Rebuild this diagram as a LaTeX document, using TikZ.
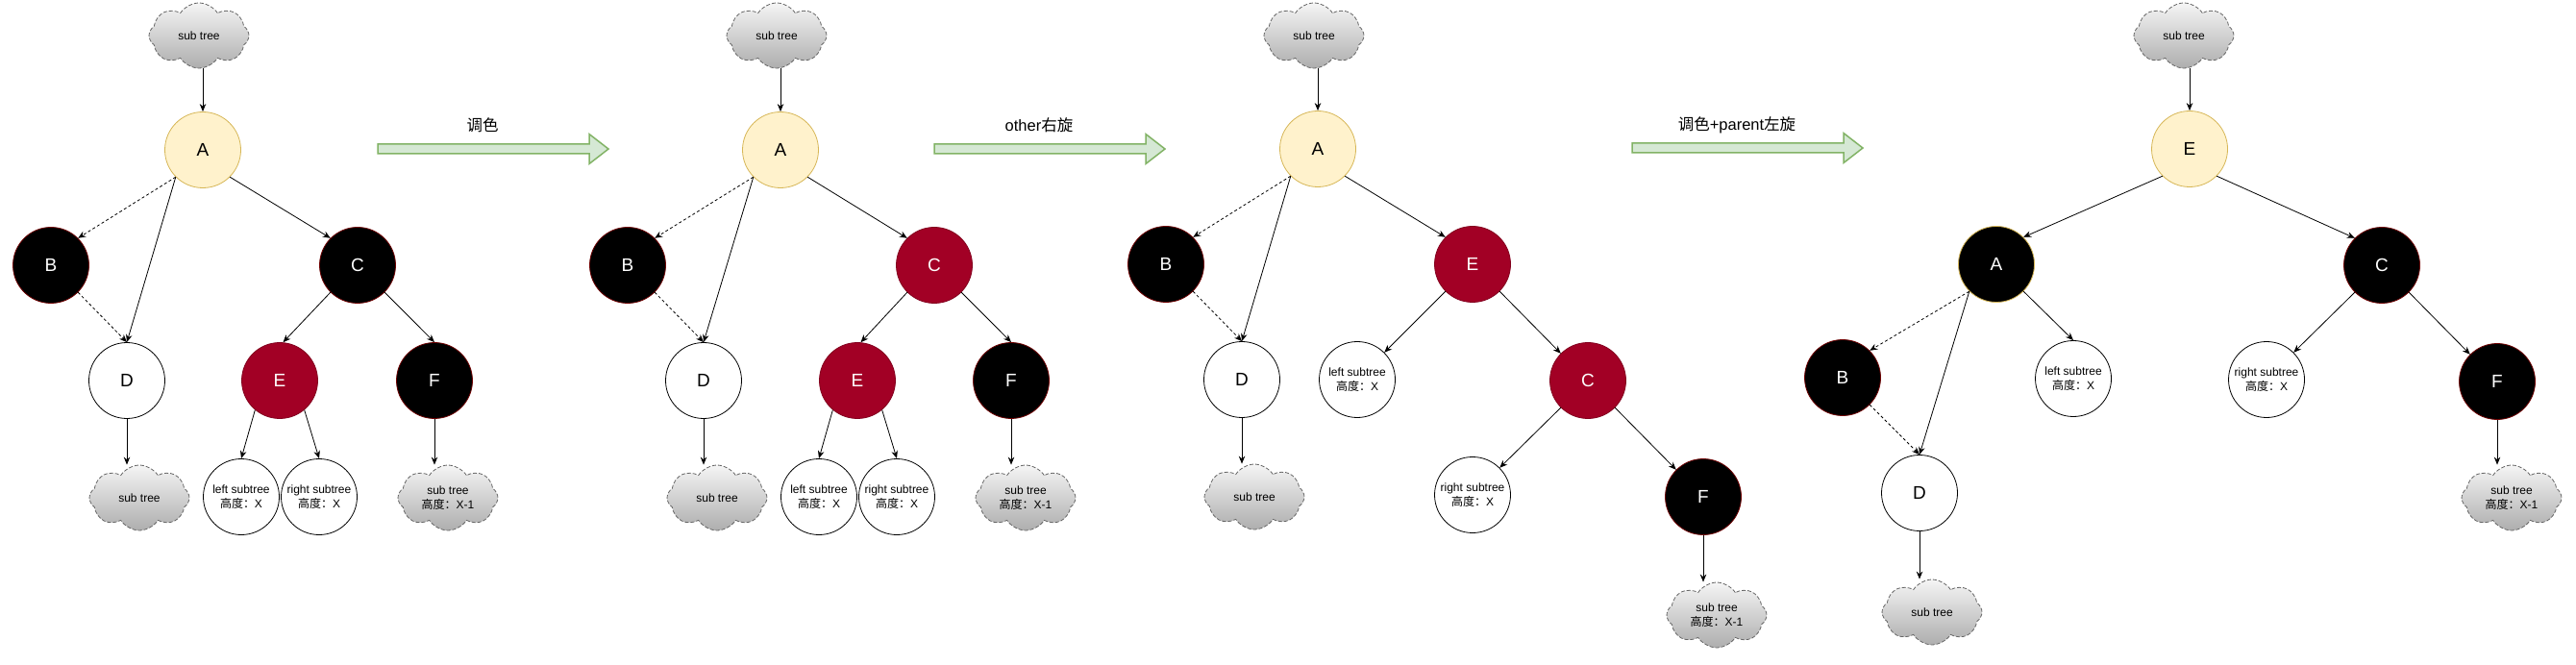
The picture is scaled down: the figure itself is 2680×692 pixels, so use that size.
\documentclass[tikz,border=0pt]{standalone}
\usepackage{fontspec}
\setmainfont{Liberation Sans}
\newfontfamily\cjk{Noto Sans CJK SC}
\usepackage{tikz}
\usetikzlibrary{arrows.meta, shapes.symbols, shapes.geometric, calc, positioning}
\definecolor{yelfill}{HTML}{FFF2CC}
\definecolor{yelline}{HTML}{D6B656}
\definecolor{redfill}{HTML}{A20025}
\definecolor{redline}{HTML}{6F0000}
\definecolor{flowfill}{HTML}{D5E8D4}
\definecolor{flowline}{HTML}{82B366}
\definecolor{cloudline}{HTML}{666666}

\begin{document}
\begin{tikzpicture}[x=1pt,y=-1pt,
        rbnode/.style={circle, minimum size=79pt, inner sep=0pt, line width=0.8pt, font=\fontsize{19}{22}\selectfont},
        blknode/.style={rbnode, fill=black, draw=redline, text=white},
        rednode/.style={rbnode, fill=redfill, draw=redfill!80!black, text=white},
        yelnode/.style={rbnode, fill=yelfill, draw=yelline},
        whtnode/.style={rbnode, fill=white, draw=black},
        subnode/.style={circle, minimum size=79pt, inner sep=0pt, draw, line width=0.8pt, align=center, font=\fontsize{12}{14.5}\selectfont},
        cld/.style={cloud, cloud puffs=8, cloud puff arc=115, aspect=1.5, draw=cloudline, dash pattern=on 4pt off 2pt, line width=0.8pt,
                top color=black!4, bottom color=black!32, minimum width=104pt, minimum height=68pt, inner sep=0pt,
                align=center, font=\fontsize{12}{14.5}\selectfont},
        edge/.style={-{Stealth[length=8pt,width=6.5pt]}, line width=0.8pt},
        dedge/.style={edge, dash pattern=on 3pt off 2.5pt},
        flow/.style={fill=flowfill, draw=flowline, line width=1.5pt},
        lbl/.style={font=\fontsize{16.5}{19}\selectfont}]

        \useasboundingbox (0,0) rectangle (2680,692); % Khung hình

        % Cây 1
        \node[cld] (cT1) at (207,37) {sub tree};
        \node[yelnode] (A1) at (211,156) {A};
        \node[blknode] (B1) at (53,276) {B};
        \node[blknode] (C1) at (372,276) {C};
        \node[whtnode] (D1) at (132,396) {D};
        \node[rednode] (E1) at (291,396) {E};
        \node[blknode] (F1) at (452,396) {F};
        \node[subnode] (L1) at (251,517) {left subtree\\{\cjk 高度：}X};
        \node[subnode] (R1) at (332,517) {right subtree\\{\cjk 高度：}X};
        \node[cld] (cD1) at (145,518) {sub tree};
        \node[cld] (cF1) at (466,518) {sub tree\\{\cjk 高度：}X-1};

        \draw[edge] (A1.north |- cT1.south) -- (A1.north);
        \draw[dedge] (A1.225) -- (B1.45);
        \draw[edge] (A1.225) -- (D1.north);
        \draw[dedge] (B1.-45) -- (D1.north);
        \draw[edge] (A1.-45) -- (C1.135);
        \draw[edge] (C1.-135) -- (E1.85);
        \draw[edge] (C1.-45) -- (F1.north);
        \draw[edge] (E1.-130) -- (L1.north);
        \draw[edge] (E1.-50) -- (R1.north);
        \draw[edge] (D1.south) -- (D1.south |- cD1.north);
        \draw[edge] (F1.south) -- (F1.south |- cF1.north);

        % Mũi tên 1
        \coordinate (s1) at (393,155);
        \draw[flow] (s1) ++(0,-5) -- ++(220,0) -- ++(0,-10.5) -- ++(20,15.5) -- ++(-20,15.5) -- ++(0,-10.5) -- ++(-220,0) -- cycle;
        \node[lbl] (t1) at (502,130) {\cjk 调色};

        % Cây 2
        \node[cld] (cT2) at (808,37) {sub tree};
        \node[yelnode] (A2) at (812,156) {A};
        \node[blknode] (B2) at (653,276) {B};
        \node[rednode] (C2) at (972,276) {C};
        \node[whtnode] (D2) at (732,396) {D};
        \node[rednode] (E2) at (892,396) {E};
        \node[blknode] (F2) at (1052,396) {F};
        \node[subnode] (L2) at (852,517) {left subtree\\{\cjk 高度：}X};
        \node[subnode] (R2) at (933,517) {right subtree\\{\cjk 高度：}X};
        \node[cld] (cD2) at (746,518) {sub tree};
        \node[cld] (cF2) at (1067,518) {sub tree\\{\cjk 高度：}X-1};

        \draw[edge] (A2.north |- cT2.south) -- (A2.north);
        \draw[dedge] (A2.225) -- (B2.45);
        \draw[edge] (A2.225) -- (D2.north);
        \draw[dedge] (B2.-45) -- (D2.north);
        \draw[edge] (A2.-45) -- (C2.135);
        \draw[edge] (C2.-135) -- (E2.85);
        \draw[edge] (C2.-45) -- (F2.north);
        \draw[edge] (E2.-130) -- (L2.north);
        \draw[edge] (E2.-50) -- (R2.north);
        \draw[edge] (D2.south) -- (D2.south |- cD2.north);
        \draw[edge] (F2.south) -- (F2.south |- cF2.north);

        % Mũi tên 2
        \coordinate (s2) at (972,155);
        \draw[flow] (s2) ++(0,-5) -- ++(220,0) -- ++(0,-10.5) -- ++(20,15.5) -- ++(-20,15.5) -- ++(0,-10.5) -- ++(-220,0) -- cycle;
        \node[lbl] (t2) at (1081,130) {other{\cjk 右旋}};

        % Cây 3
        \node[cld] (cT3) at (1367,37) {sub tree};
        \node[yelnode] (A3) at (1371,155) {A};
        \node[blknode] (B3) at (1213,275) {B};
        \node[rednode] (E3) at (1532,275) {E};
        \node[whtnode] (D3) at (1292,395) {D};
        \node[subnode] (L3) at (1412,395) {left subtree\\{\cjk 高度：}X};
        \node[rednode] (C3) at (1652,396) {C};
        \node[subnode] (R3) at (1532,515) {right subtree\\{\cjk 高度：}X};
        \node[blknode] (F3) at (1772,517) {F};
        \node[cld] (cD3) at (1305,517) {sub tree};
        \node[cld] (cF3) at (1786,640) {sub tree\\{\cjk 高度：}X-1};

        \draw[edge] (A3.north |- cT3.south) -- (A3.north);
        \draw[dedge] (A3.225) -- (B3.45);
        \draw[edge] (A3.225) -- (D3.north);
        \draw[dedge] (B3.-45) -- (D3.north);
        \draw[edge] (A3.-45) -- (E3.135);
        \draw[edge] (E3.-135) -- (L3.45);
        \draw[edge] (E3.-45) -- (C3.135);
        \draw[edge] (C3.-135) -- (R3.45);
        \draw[edge] (C3.-45) -- (F3.135);
        \draw[edge] (D3.south) -- (D3.south |- cD3.north);
        \draw[edge] (F3.south) -- (F3.south |- cF3.north);

        % Mũi tên 3
        \coordinate (s3) at (1698,154);
        \draw[flow] (s3) ++(0,-5) -- ++(220,0) -- ++(0,-10.5) -- ++(20,15.5) -- ++(-20,15.5) -- ++(0,-10.5) -- ++(-220,0) -- cycle;
        \node[lbl] (t3) at (1807,130) {{\cjk 调色}+parent{\cjk 左旋}};

        % Cây 4
        \node[cld] (cT4) at (2272,37) {sub tree};
        \node[yelnode] (E4) at (2278,155) {E};
        \node[blknode, draw=yelline] (A4) at (2077,275) {A};
        \node[blknode] (C4) at (2478,276) {C};
        \node[blknode] (B4) at (1917,393) {B};
        \node[subnode] (L4) at (2157,394) {left subtree\\{\cjk 高度：}X};
        \node[subnode] (R4) at (2358,395) {right subtree\\{\cjk 高度：}X};
        \node[blknode] (F4) at (2598,397) {F};
        \node[whtnode] (D4) at (1997,513) {D};
        \node[cld] (cD4) at (2010,637) {sub tree};
        \node[cld] (cF4) at (2613,518) {sub tree\\{\cjk 高度：}X-1};

        \draw[edge] (E4.north |- cT4.south) -- (E4.north);
        \draw[edge] (E4.-135) -- (A4.45);
        \draw[edge] (E4.-45) -- (C4.135);
        \draw[dedge] (A4.-135) -- (B4.45);
        \draw[edge] (A4.-135) -- (D4.north);
        \draw[dedge] (B4.-45) -- (D4.north);
        \draw[edge] (A4.-45) -- (L4.north);
        \draw[edge] (C4.-135) -- (R4.45);
        \draw[edge] (C4.-45) -- (F4.135);
        \draw[edge] (D4.south) -- (D4.south |- cD4.north);
        \draw[edge] (F4.south) -- (F4.south |- cF4.north);

\end{tikzpicture}
\end{document}
